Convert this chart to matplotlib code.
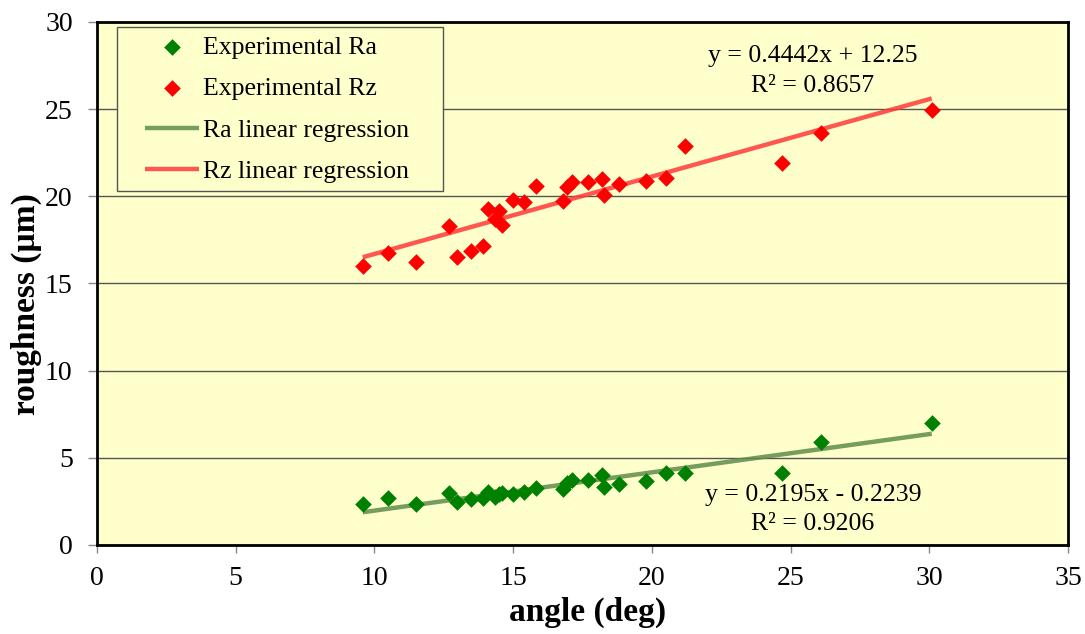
import numpy as np
import matplotlib
matplotlib.use("Agg")
import matplotlib.pyplot as plt
from matplotlib.patches import Rectangle

plt.rcParams["font.family"] = ["Liberation Serif", "DejaVu Serif"]

# angle (deg) for each specimen
angle = [9.58, 10.50, 11.50, 12.69, 12.99, 13.48, 13.90, 14.11, 14.35, 14.50,
         14.61, 14.98, 15.40, 15.81, 16.79, 16.93, 17.11, 17.69, 18.19, 18.29,
         18.81, 19.79, 20.51, 21.20, 24.68, 26.09, 30.09]

ra = [2.33, 2.72, 2.33, 3.00, 2.49, 2.64, 2.72, 3.06, 2.77, 2.95,
      3.00, 2.93, 3.06, 3.25, 3.21, 3.54, 3.73, 3.71, 4.02, 3.33,
      3.48, 3.69, 4.11, 4.15, 4.11, 5.91, 6.98]

rz = [16.03, 16.77, 16.25, 18.30, 16.54, 16.87, 17.15, 19.30, 18.70, 19.18,
      18.38, 19.81, 19.66, 20.60, 19.75, 20.56, 20.81, 20.84, 21.00, 20.08,
      20.69, 20.90, 21.08, 22.91, 21.90, 23.66, 24.96]

# trendline coefficients as printed on the chart
ra_fit = (0.2195, -0.2239, 0.9206)
rz_fit = (0.4442, 12.25, 0.8657)

fig = plt.figure(figsize=(10.85, 6.34), dpi=100)
ax = fig.add_axes([0.0894, 0.1404, 0.8949, 0.8249])
ax.set_facecolor("#FFFFCC")

x_line = np.array([min(angle), max(angle)])
ax.plot(x_line, ra_fit[0] * x_line + ra_fit[1], color="#5E8C4A", lw=3.2,
        alpha=0.85, solid_capstyle="butt", zorder=2, label="Ra linear regression")
ax.plot(x_line, rz_fit[0] * x_line + rz_fit[1], color="#FF3A3A", lw=3.2,
        alpha=0.85, solid_capstyle="butt", zorder=2, label="Rz linear regression")

ax.scatter(angle, ra, marker="D", s=72, color="#008000", linewidths=0,
           zorder=3, label="Experimental Ra")
ax.scatter(angle, rz, marker="D", s=72, color="#FF0000", linewidths=0,
           zorder=3, label="Experimental Rz")

ax.set_xlim(0, 35)
ax.set_ylim(0, 30)
ax.set_xticks(range(0, 36, 5))
ax.set_yticks(range(0, 31, 5))
ax.yaxis.grid(True, color="#555555", lw=1.0)
ax.set_axisbelow(True)
for s in ax.spines.values():
    s.set_linewidth(2)
    s.set_color("black")
ax.tick_params(axis="y", direction="out", length=6.5, width=1, color="#888888",
               labelsize=20, pad=11)
ax.tick_params(axis="x", direction="out", length=6, width=1, color="#888888",
               labelsize=20, pad=9)

ax.set_xlabel("angle (deg)", fontsize=24, fontweight="bold")
ax.set_ylabel("roughness (µm)", fontsize=24, fontweight="bold")
ax.xaxis.set_label_coords(0.505, -0.099)
ax.yaxis.set_label_coords(-0.057, 0.46)

eq_kw = dict(fontsize=18.5, ha="center", va="baseline")
ax.text(25.81, 27.73, "y = %.4fx + %.2f" % (rz_fit[0], rz_fit[1]), **eq_kw)
ax.text(25.81, 26.0, "R² = %.4f" % rz_fit[2], **eq_kw)
ax.text(25.81, 2.52, "y = %.4fx - %.4f" % (ra_fit[0], -ra_fit[1]), **eq_kw)
ax.text(25.81, 0.86, "R² = %.4f" % ra_fit[2], **eq_kw)

# legend box
ax.add_patch(Rectangle((0.0206, 0.6774), 0.336, 0.3136, transform=ax.transAxes,
                       facecolor="#FFFFCC", edgecolor="#555555", lw=1, zorder=4))
handles, labels = ax.get_legend_handles_labels()
order = [2, 3, 0, 1]
leg = ax.legend([handles[i] for i in order], [labels[i] for i in order],
                loc="upper left", bbox_to_anchor=(0.0494, 0.974), borderaxespad=0,
                fontsize=18.5, frameon=False, handlelength=2.1, handletextpad=0.16,
                labelspacing=0.72, borderpad=0, scatterpoints=1)
leg.set_zorder(5)

fig.savefig("out.png", dpi=100, facecolor="white")
